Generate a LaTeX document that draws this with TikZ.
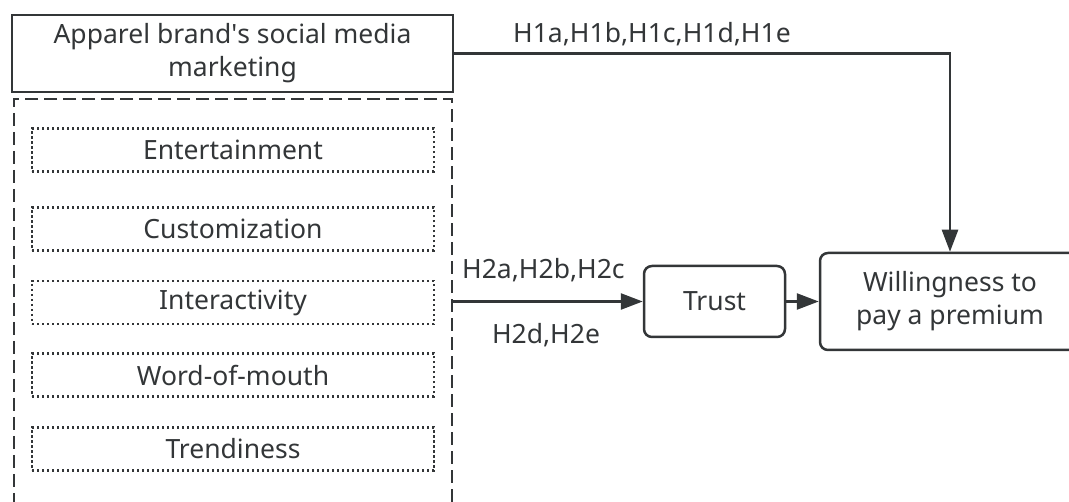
\documentclass[tikz,border=0pt]{standalone}
\usepackage{fontspec}
\setmainfont{Noto Sans}
\usetikzlibrary{arrows.meta}
\definecolor{ink}{HTML}{333638}

\begin{document}
\begin{tikzpicture}[x=1pt, y=-1pt,
    every node/.style={font=\fontsize{26.5}{33}\selectfont}]
   \tikzstyle{box} = [draw=ink, line width=2.5pt, text=ink, align=center,
                      inner sep=0pt];
   \tikzstyle{rbox} = [box, rounded corners=8pt];
   \tikzstyle{dbox} = [draw=ink, line width=2.4pt, dash pattern=on 2.4pt off 2.6pt,
                       text=ink, minimum width=402pt, minimum height=43pt];
   \tikzstyle{grp} = [draw=ink, line width=2.8pt, dash pattern=on 13pt off 6pt,
                      minimum width=438pt, minimum height=440pt];
   \tikzstyle{ar} = [draw=ink, line width=2.5pt,
                     -{Triangle[length=22pt,width=16pt]}];
   \tikzstyle{lbl} = [text=ink, inner sep=0pt];

   \useasboundingbox (0,0) rectangle (1069,502);

   % construct and its dimensions
   \node[box, minimum width=441pt, minimum height=77pt] (smm) at (232.5,53.5)
        {Apparel brand\textquotesingle s social media\\marketing};
   \node[grp] (dims) at (233,319) {};
   \foreach \y/\name in {150/Entertainment, 229/Customization,
                         302.5/Interactivity, 375/Word-of-mouth,
                         449/Trendiness}
      \node[dbox] (\name) at (233,\y) {\name};

   % mediator and outcome
   \node[rbox, minimum width=141pt, minimum height=71pt] (trust)
        at (714.5,301.5) {Trust};
   \node[rbox, minimum width=260pt, minimum height=97pt] (wtp)
        at (950,301.5) {Willingness to\\pay a premium};

   % paths
   \draw[ar] (smm.east) -| (wtp.north);
   \draw[ar] (dims.east |- trust.west) -- (trust.west);
   \draw[ar] (trust) -- (wtp);

   \node[lbl, anchor=base west] (h1) at (513,43) {H1a,H1b,H1c,H1d,H1e};
   \node[lbl, anchor=base west] (h2up) at (462,279) {H2a,H2b,H2c};
   \node[lbl, anchor=base] (h2dn) at (546,344) {H2d,H2e};
\end{tikzpicture}
\end{document}
